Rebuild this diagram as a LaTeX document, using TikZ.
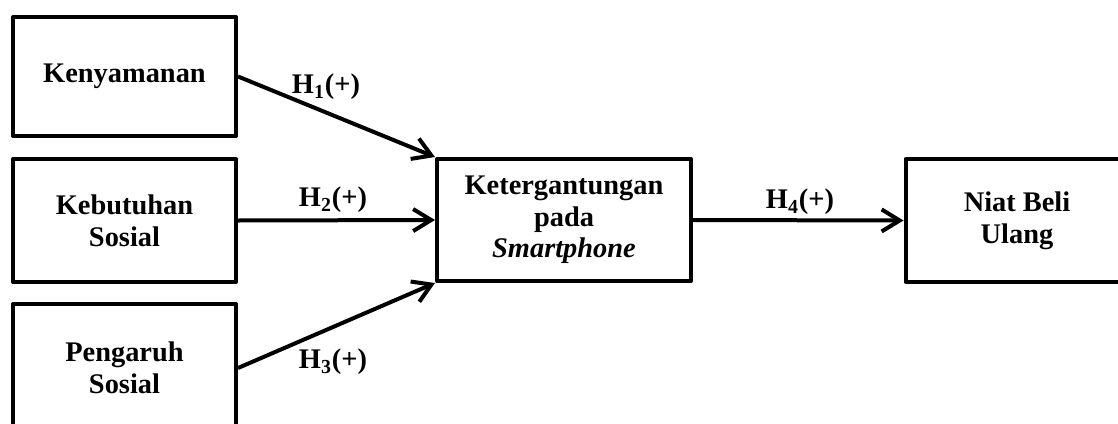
\documentclass[tikz,border=0pt]{standalone}
\usepackage{fontspec}
\setmainfont{Liberation Serif}
\usetikzlibrary{arrows.meta,positioning}
\tikzset{pin/.style={line width=2pt, -{Straight Barb[length=9pt,width=11pt]}},
  varbox/.style={draw, line width=2pt, line join=round, minimum width=111.5pt, minimum height=60pt, align=center, font=\bfseries\fontsize{14.2}{15.8}\selectfont},
  hlbl/.style={font=\bfseries\fontsize{14.2}{15.8}\selectfont, inner sep=0pt}}

\begin{document}
\begin{tikzpicture}[x=0.5pt,y=-0.5pt]
  \useasboundingbox (0,0) rectangle (1118,423);
  \clip (0,0) rectangle (1118,423);
  % variable boxes
  \node[varbox, minimum height=59.5pt] (ken)  at (124.5,76.5) {Kenyamanan};
  \node[varbox, minimum height=61.5pt] (keb)  at (124.5,220.5) {Kebutuhan\\Sosial};
  \node[varbox, minimum height=64pt]   (peng) at (124.5,368)  {Pengaruh\\Sosial};
  \node[varbox, minimum width=127pt, minimum height=61pt] (ket) at (564,220) {Ketergantungan\\pada\\\textit{Smartphone}};
  \node[varbox, minimum width=111.5pt, minimum height=61.5pt] (niat) at (1017,220.5) {Niat Beli\\Ulang};
  % paths
  \draw[pin] (ken.east) -- (ket.north west);
  \draw[pin] (keb.east) -- (ket.west);
  \draw[pin] (peng.east) -- (ket.south west);
  \draw[pin] (ket.east) -- (niat.west);
  % hypothesis labels
  \node[hlbl] (h1) at (326,87)  {H\textsubscript{1}(+)};
  \node[hlbl] (h2) at (333,200) {H\textsubscript{2}(+)};
  \node[hlbl] (h3) at (333,362) {H\textsubscript{3}(+)};
  \node[hlbl] (h4) at (800,202) {H\textsubscript{4}(+)};
\end{tikzpicture}
\end{document}
